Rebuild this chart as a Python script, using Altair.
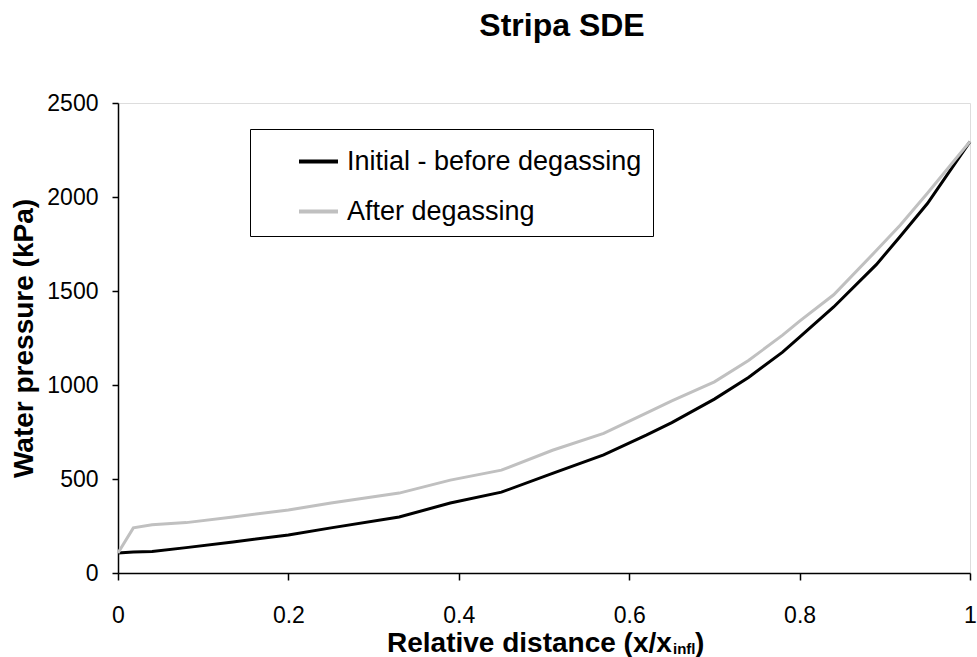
import altair as alt
import pandas as pd

# Relative distance (x/x_infl)
rel_dist = [0, 0.018, 0.04, 0.08, 0.135, 0.2, 0.25, 0.33, 0.39, 0.45, 0.51,
            0.57, 0.62, 0.65, 0.70, 0.74, 0.78, 0.80, 0.84, 0.89, 0.918, 0.95, 1.0]
# Water pressure (kPa)
initial = [106, 112, 115, 135, 165, 202, 240, 298, 372, 430, 530,
           628, 733, 800, 925, 1040, 1175, 1255, 1415, 1640, 1790, 1965, 2295]
after = [106, 240, 257, 268, 298, 335, 372, 425, 494, 547, 653,
         743, 850, 915, 1017, 1130, 1265, 1340, 1480, 1715, 1850, 2020, 2295]

series_names = ["Initial - before degassing", "After degassing"]
series_colors = ["#000000", "#c0c0c0"]
x_ticks = [0, 0.2, 0.4, 0.6, 0.8, 1.0]
y_ticks = [0, 500, 1000, 1500, 2000, 2500]

FONT = "Liberation Sans"

rows = []
for name, vals in zip(series_names, [initial, after]):
    for i, (x, y) in enumerate(zip(rel_dist, vals)):
        rows.append({"x": x, "y": y, "series": name, "order": i})
df = pd.DataFrame(rows)

lines = alt.Chart(df).mark_line(strokeWidth=3).encode(
    x=alt.X("x:Q",
            scale=alt.Scale(domain=[0, 1], nice=False),
            axis=alt.Axis(values=x_ticks, format="~g", title=None,
                          grid=False, domainColor="black", domainWidth=1.5,
                          tickColor="black", tickWidth=1.5, tickSize=7,
                          labelFont=FONT, labelFontSize=23, labelColor="black",
                          labelPadding=24, labelFlush=False)),
    y=alt.Y("y:Q",
            scale=alt.Scale(domain=[0, 2500], nice=False),
            axis=alt.Axis(values=y_ticks, format="d", title="Water pressure (kPa)",
                          grid=False, domainColor="black", domainWidth=1.5,
                          tickColor="black", tickWidth=1.5, tickSize=6,
                          labelFont=FONT, labelFontSize=23, labelColor="black",
                          labelPadding=14, titleFont=FONT, titleFontSize=28,
                          titleFontWeight="bold", titleColor="black",
                          titlePadding=8)),
    color=alt.Color("series:N",
                    scale=alt.Scale(domain=series_names, range=series_colors),
                    legend=alt.Legend(title=None, orient="none",
                                      legendX=132, legendY=26,
                                      strokeColor="black", fillColor="white",
                                      padding=11, symbolType="stroke",
                                      symbolSize=1521, symbolStrokeWidth=4,
                                      symbolOffset=36, labelOffset=7,
                                      rowPadding=15, labelFont=FONT,
                                      labelFontSize=27, labelColor="black",
                                      labelLimit=420)),
    detail="series:N",
    order="order:Q",
)

xt_main = alt.Chart(pd.DataFrame({"t": ["Relative distance (x/x"]})).mark_text(
    font=FONT, fontSize=28, fontWeight="bold", align="left", baseline="alphabetic",
    color="black").encode(text="t:N", x=alt.value(269), y=alt.value(549))
xt_sub = alt.Chart(pd.DataFrame({"t": ["infl"]})).mark_text(
    font=FONT, fontSize=15, fontWeight="bold", align="left", baseline="alphabetic",
    color="black").encode(text="t:N", x=alt.value(555), y=alt.value(551))
xt_close = alt.Chart(pd.DataFrame({"t": [")"]})).mark_text(
    font=FONT, fontSize=28, fontWeight="bold", align="left", baseline="alphabetic",
    color="black").encode(text="t:N", x=alt.value(577), y=alt.value(549))

chart = alt.layer(lines, xt_main, xt_sub, xt_close).properties(
    width=852, height=470,
    title=alt.TitleParams("Stripa SDE", font=FONT, fontSize=32,
                          fontWeight="bold", color="black", anchor="middle",
                          dx=18, offset=49),
    autosize=alt.AutoSizeParams(type="none"),
    padding={"left": 118, "top": 103, "right": 7, "bottom": 84},
).configure_view(stroke=None).configure(background="white")

chart.save("out.html", embed_options={"renderer": "svg", "actions": False})
